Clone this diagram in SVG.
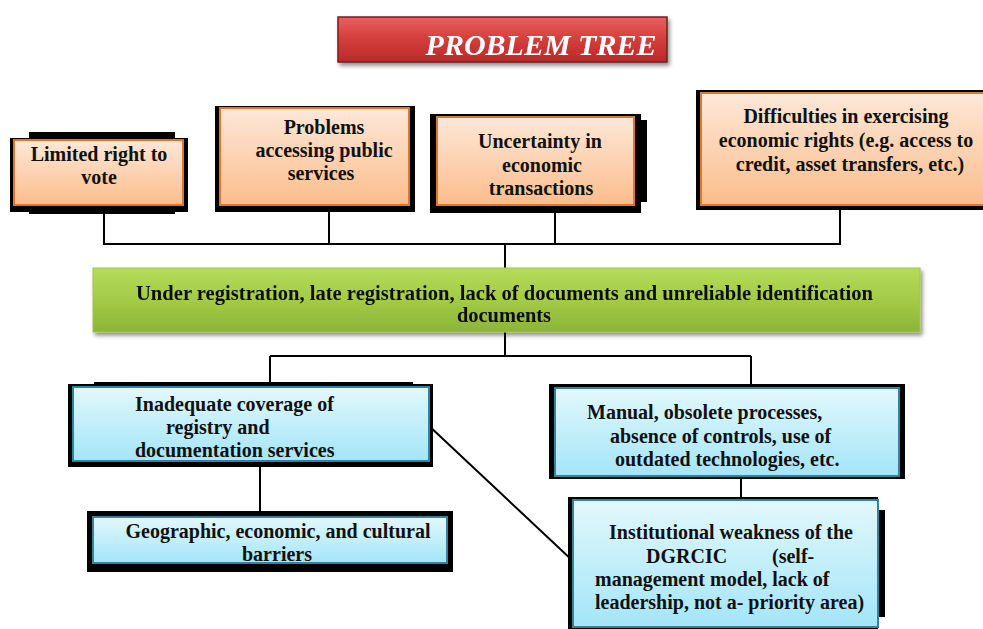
<svg xmlns="http://www.w3.org/2000/svg" width="983" height="629" viewBox="0 0 983 629">
<defs>
<linearGradient id="gOr" x1="0" y1="0" x2="0" y2="1"><stop offset="0" stop-color="#fde8d8"/><stop offset="1" stop-color="#fbbd8c"/></linearGradient>
<linearGradient id="gBl" x1="0" y1="0" x2="0" y2="1"><stop offset="0" stop-color="#e3f8fd"/><stop offset="1" stop-color="#a3e5f7"/></linearGradient>
<linearGradient id="gGr" x1="0" y1="0" x2="0" y2="1"><stop offset="0" stop-color="#b6dc5a"/><stop offset="0.5" stop-color="#a3cb45"/><stop offset="1" stop-color="#8cb43a"/></linearGradient>
<linearGradient id="gRd" x1="0" y1="0" x2="0" y2="1"><stop offset="0" stop-color="#e8605e"/><stop offset="0.5" stop-color="#d43d3b"/><stop offset="1" stop-color="#b82a29"/></linearGradient>
<filter id="sh" x="-5%" y="-20%" width="110%" height="150%"><feGaussianBlur in="SourceAlpha" stdDeviation="2"/><feOffset dx="2" dy="3" result="b"/><feComponentTransfer><feFuncA type="linear" slope="0.45"/></feComponentTransfer><feMerge><feMergeNode/><feMergeNode in="SourceGraphic"/></feMerge></filter>
</defs>
<style>
text{font-family:"Liberation Serif","Times New Roman",serif;font-weight:bold;font-size:20px;fill:#111}
.c{text-anchor:middle}
.blk{fill:#000}
.or{fill:url(#gOr);stroke:#d9782e;stroke-width:2}
.bl{fill:url(#gBl);stroke:#31849b;stroke-width:2}
.ln{fill:none;stroke:#000;stroke-width:2}
</style>
<rect width="983" height="629" fill="#fff"/>

<g id="title" filter="url(#sh)">
<rect x="338" y="17" width="329" height="45" fill="url(#gRd)" stroke="#7a1c1c" stroke-width="1.5"/>
<text x="541" y="55" class="c" style="font-size:30px;font-style:italic;fill:#fff">PROBLEM TREE</text>
</g>

<g id="connectors">
<path class="ln" d="M104 212 V244 H840 V210 M329 212 V244 M555 213 V244 M505 244 V268"/>
<path class="ln" d="M505 332 V356 M270 356 H751 M270 356 V383 M751 356 V384"/>
<path class="ln" d="M260 467 V511 M741 478 V497 M427 424 L574 562"/>
</g>

<g id="e1">
<rect class="blk" x="10" y="138" width="178" height="74"/>
<rect class="blk" x="29" y="132" width="146" height="82"/>
<rect class="or" x="14" y="140" width="169" height="65"/>
<text class="c" x="99" y="161">Limited right to</text>
<text class="c" x="99" y="184">vote</text>
</g>

<g id="e2">
<rect class="blk" x="215" y="106" width="200" height="106"/>
<rect class="or" x="220" y="108" width="189" height="97"/>
<text class="c" x="324" y="134">Problems</text>
<text class="c" x="324" y="157">accessing public</text>
<text class="c" x="321" y="180">services</text>
</g>

<g id="e3">
<rect class="blk" x="430" y="114" width="211" height="99"/>
<rect class="blk" x="634" y="120" width="13" height="82"/>
<rect class="or" x="437" y="117" width="197" height="88"/>
<text class="c" x="540" y="148">Uncertainty in</text>
<text class="c" x="542" y="172">economic</text>
<text class="c" x="541" y="195">transactions</text>
</g>

<g id="e4">
<rect class="blk" x="696" y="90" width="290" height="120"/>
<rect class="or" x="701" y="93" width="290" height="112"/>
<text class="c" x="846" y="123">Difficulties in exercising</text>
<text class="c" x="846" y="147">economic rights (e.g. access to</text>
<text class="c" x="850" y="171">credit, asset transfers, etc.)</text>
</g>

<g id="core" filter="url(#sh)">
<rect x="93" y="268" width="827" height="64" fill="url(#gGr)" stroke="#9fc64c" stroke-width="1"/>
<text class="c" x="504.5" y="300" textLength="737" lengthAdjust="spacingAndGlyphs">Under registration, late registration, lack of documents and unreliable identification</text>
<text class="c" x="504" y="322" textLength="94" lengthAdjust="spacingAndGlyphs">documents</text>
</g>

<g id="c1">
<rect class="blk" x="68" y="384" width="365" height="83"/>
<rect class="blk" x="94" y="382" width="319" height="4"/>
<rect class="bl" x="73" y="387" width="356" height="74"/>
<text x="135" y="411">Inadequate coverage of</text>
<text x="166" y="434">registry and</text>
<text x="135" y="457">documentation services</text>
</g>

<g id="c2">
<rect class="blk" x="549" y="384" width="356" height="95"/>
<rect class="bl" x="555" y="388" width="344" height="88"/>
<text x="587" y="419">Manual, obsolete processes,</text>
<text x="610" y="443">absence of controls, use of</text>
<text x="615" y="466">outdated technologies, etc.</text>
</g>

<g id="c3">
<rect class="blk" x="87" y="511" width="366" height="61"/>
<rect class="bl" x="93" y="517" width="354" height="46"/>
<text class="c" x="278" y="538">Geographic, economic, and cultural</text>
<text class="c" x="277" y="561">barriers</text>
</g>

<g id="c4">
<rect class="blk" x="568" y="497" width="310" height="132"/>
<rect class="blk" x="876" y="510" width="9" height="107"/>
<rect class="bl" x="573" y="500" width="305" height="127"/>
<text class="c" x="731" y="539">Institutional weakness of the</text>
<text x="646" y="563">DGRCIC</text>
<text x="772" y="563">(self-</text>
<text x="595" y="586">management model, lack of</text>
<text x="595" y="609">leadership, not a- priority area)</text>
</g>
</svg>
